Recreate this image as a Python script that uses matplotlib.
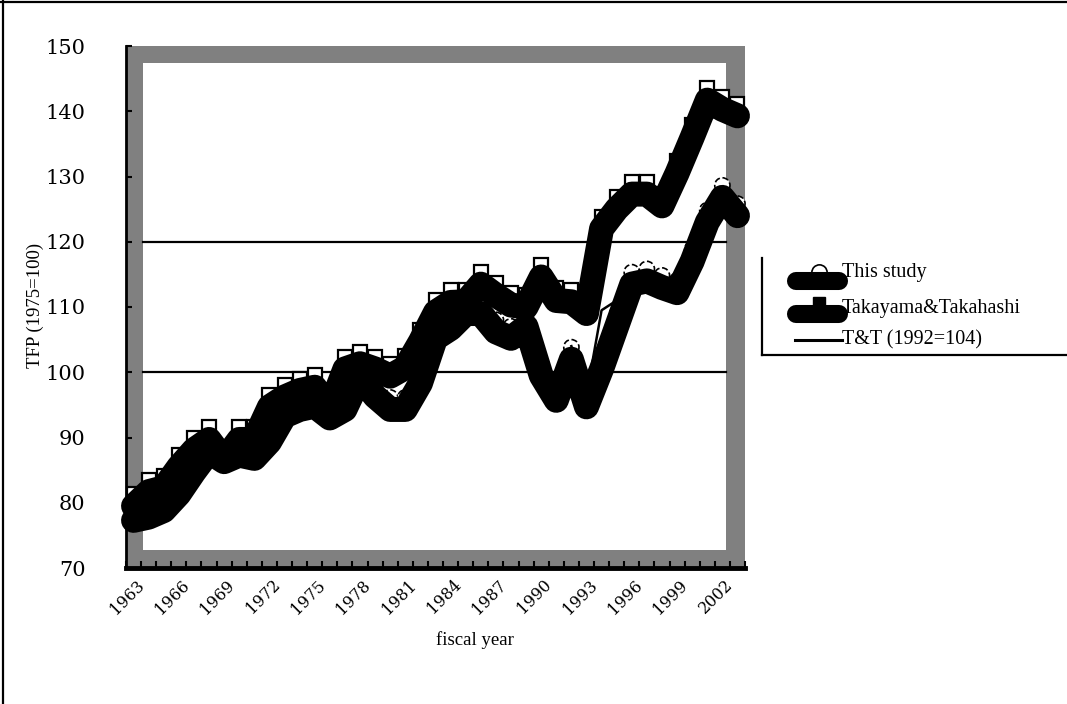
import matplotlib
matplotlib.use("Agg")
import matplotlib.pyplot as plt
import matplotlib.transforms as mtransforms
from matplotlib.lines import Line2D
from matplotlib.patches import Rectangle
import numpy as np

# fiscal years 1963-2003
years = list(range(1963, 2004))

this_study = [77.3, 77.8, 78.8, 81.3, 84.7, 87.8, 86.3, 87.3, 86.8, 89.3,
              93.3, 94.3, 94.8, 93.0, 94.3, 99.2, 96.3, 94.3, 94.3, 98.3,
              105.2, 106.7, 109.0, 109.0, 106.2, 105.2, 107.0, 99.5, 95.7, 102.0,
              94.7, 100.5, 107.0, 113.5, 114.0, 113.0, 112.2, 117.0, 123.0, 126.8,
              124.0]

takayama = [79.5, 81.7, 82.3, 85.5, 88.1, 89.7, 86.6, 89.7, 89.7, 94.7,
            96.2, 97.2, 97.7, 94.5, 100.5, 101.3, 100.5, 99.4, 100.7, 104.7,
            109.2, 110.7, 110.8, 113.5, 111.8, 110.3, 110.0, 114.6, 111.0, 110.8,
            109.0, 122.0, 125.0, 127.3, 127.3, 125.5, 130.5, 136.0, 141.7, 140.3,
            139.3]

tt_years = list(range(1992, 2004))
tt_1992 = [104.0, 96.5, 109.5, 111.0, 114.5, 115.0, 114.0, 113.0, 118.0, 124.0,
           127.5, 125.0]

label_years = years[::3]
y_ticks = [70, 80, 90, 100, 110, 120, 130, 140, 150]
grid_levels = [100, 120]

W, H = 1067, 704
fig = plt.figure(figsize=(W / 100, H / 100), dpi=100)
ax = fig.add_axes([126 / W, 1 - 568 / H, (745 - 126) / W, (568 - 46) / H])

# grey plot area with a white inner panel
ax.set_facecolor("#808080")
ax.add_patch(Rectangle((0.028, 0.0345), 0.941, 0.9325, transform=ax.transAxes,
                       facecolor="white", edgecolor="none", zorder=0.5))
for g in grid_levels:
    ax.axhline(g, xmin=0.028, xmax=0.969, color="black", lw=1.6, zorder=1)

idx = np.arange(len(years))
tt_idx = np.array([years.index(y) for y in tt_years])

# markers sit a little above the lines, behind them
shift = mtransforms.ScaledTranslation(0, 0.12, fig.dpi_scale_trans)
ax.scatter(idx, this_study, s=120, marker="o", facecolors="white",
           edgecolors="black", linewidths=1.2, linestyles="--",
           transform=ax.transData + shift, zorder=2, clip_on=False)
ax.plot(idx, takayama, ls="none", marker="s", ms=9.5, mfc="white", mec="black",
        mew=1.6, transform=ax.transData + shift, zorder=2, clip_on=False)

ax.plot(idx, this_study, color="black", lw=18, solid_joinstyle="round",
        solid_capstyle="round", zorder=3, clip_on=False)
ax.plot(idx, takayama, color="black", lw=18, solid_joinstyle="round",
        solid_capstyle="round", zorder=3, clip_on=False)
ax.plot(tt_idx, tt_1992, color="black", lw=1.8, zorder=4)

ax.set_xlim(-0.5, len(years) - 0.5)
ax.set_ylim(70, 150)

for s in ["top", "right"]:
    ax.spines[s].set_visible(False)
ax.spines["left"].set_linewidth(2)
ax.spines["bottom"].set_linewidth(3.5)

ax.set_yticks(y_ticks)
ax.tick_params(axis="y", direction="in", length=4, width=1.5, labelsize=15, pad=29)
for lbl in ax.get_yticklabels():
    lbl.set_family("DejaVu Serif")

ax.set_xticks(idx[::3])
ax.set_xticklabels([str(y) for y in label_years], rotation=45, ha="right",
                   va="top", rotation_mode="anchor", fontsize=11.5,
                   family="DejaVu Serif")
ax.set_xticks(np.arange(len(years) + 1) - 0.5, minor=True)
ax.tick_params(axis="x", which="major", length=0, pad=6)
ax.tick_params(axis="x", which="minor", direction="in", length=5, width=1.5)
dx = mtransforms.ScaledTranslation(0.02, 0, fig.dpi_scale_trans)
for lbl in ax.get_xticklabels():
    lbl.set_transform(lbl.get_transform() + dx)

fig.text(35 / W, 1 - 305 / H, "TFP (1975=100)", rotation=90, ha="center",
         va="center", fontsize=13.5, family="Liberation Serif")
fig.text(475 / W, 1 - 640 / H, "fiscal year", ha="center", va="center",
         fontsize=13.5, family="Liberation Serif")

# legend, drawn by hand like the original
def fx(px):
    return px / W

def fy(py):
    return 1 - py / H

fig.add_artist(Line2D([fx(819)], [fy(272)], marker="o", ms=11, mfc="white",
                      mec="black", mew=1.2, zorder=5))
fig.add_artist(Line2D([fx(796), fx(839)], [fy(281)] * 2, lw=13, color="black",
                      solid_capstyle="round", zorder=6))
fig.add_artist(Line2D([fx(819)], [fy(303)], marker="s", ms=9, mfc="black",
                      mec="black", zorder=5))
fig.add_artist(Line2D([fx(796), fx(839)], [fy(314)] * 2, lw=13, color="black",
                      solid_capstyle="round", zorder=6))
fig.add_artist(Line2D([fx(795), fx(842)], [fy(340)] * 2, lw=2.2, color="black"))
fig.text(fx(842), fy(273), "This study", ha="left", va="center", fontsize=14.5,
         family="Liberation Serif")
fig.text(fx(842), fy(309), "Takayama&Takahashi", ha="left", va="center",
         fontsize=14.5, family="Liberation Serif")
fig.text(fx(842), fy(340), "T&T (1992=104)", ha="left", va="center",
         fontsize=14.5, family="Liberation Serif")
fig.add_artist(Line2D([fx(762)] * 2, [fy(258), fy(355)], lw=1.6, color="black"))
fig.add_artist(Line2D([fx(762), 1], [fy(355)] * 2, lw=1.6, color="black"))

# outer chart frame (left and top edges)
fig.add_artist(Line2D([fx(3)] * 2, [0, 1], lw=1.6, color="black"))
fig.add_artist(Line2D([0, 1], [fy(2)] * 2, lw=1.6, color="black"))

fig.savefig("out.png", dpi=100)
